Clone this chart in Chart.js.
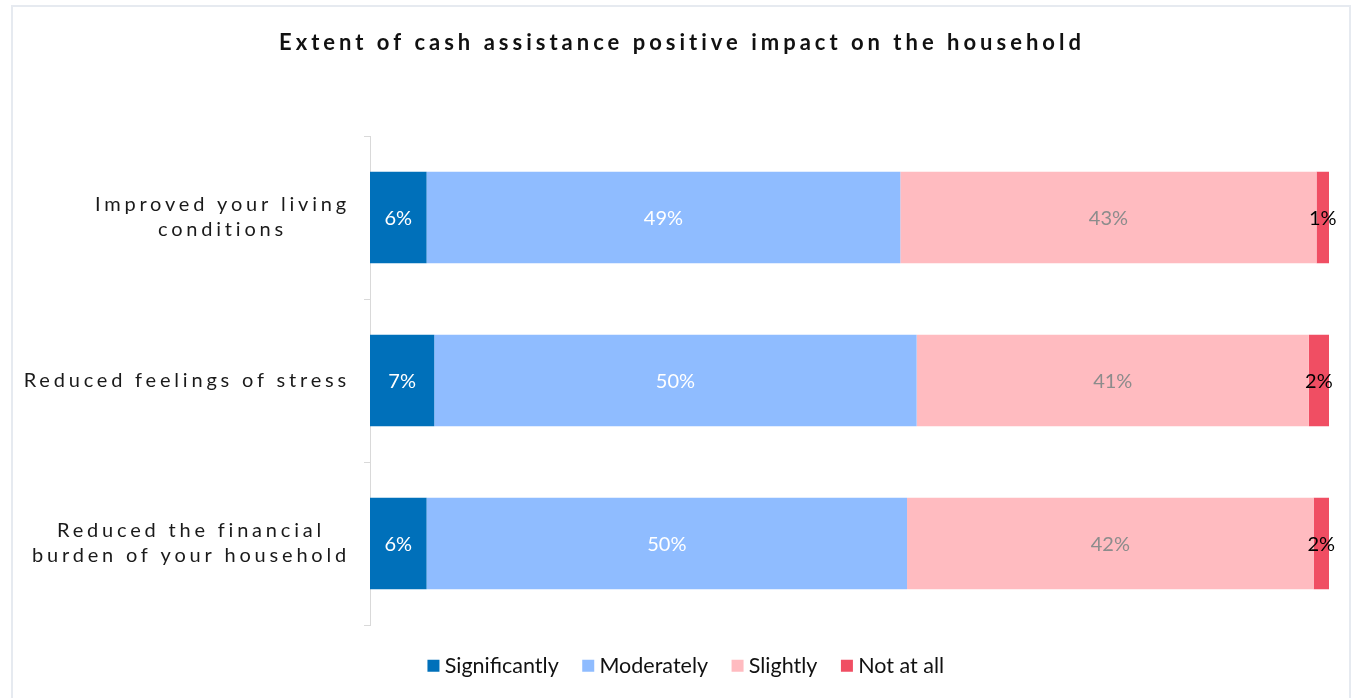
<!DOCTYPE html>
<html>
<head>
<meta charset="utf-8">
<title>Cash assistance impact</title>
<script src="https://cdn.jsdelivr.net/npm/chart.js@4.4.0/dist/chart.umd.min.js"></script>
<style>
  html, body { margin: 0; padding: 0; background: #fff; }
</style>
</head>
<body>
<canvas id="myChart" width="1353" height="698"></canvas>
<script>
var chartTitle = "Extent of cash assistance positive impact on the household"
var categories = [
    ["Improved your living", "conditions"],
    ["Reduced feelings of stress"],
    ["Reduced the financial", "burden of your household"]
]
var seriesNames = ["Significantly", "Moderately", "Slightly", "Not at all"]
var significantly = [5.9, 6.7, 5.9]
var moderately = [49.4, 50.3, 50.1]
var slightly = [43.4, 40.9, 42.4]
var notAtAll = [1.3, 2.1, 1.6]

var colors = ["#0070BA", "#8FBCFF", "#FFBBC0", "#F04E63"]
var labelColors = ["#ffffff", "#ffffff", "#8c8c8c", "#000000"]

Chart.defaults.font.family = "Lato, 'Open Sans', sans-serif"

// light frame round the whole chart
var framePlugin = {
    id: "frame",
    beforeDraw: function(chart) {
        var ctx = chart.ctx
        ctx.save()
        ctx.fillStyle = "#ffffff"
        ctx.fillRect(0, 0, chart.width, chart.height)
        ctx.strokeStyle = "#e6eaf0"
        ctx.lineWidth = 2
        ctx.strokeRect(12, 6, 1338, 720)
        ctx.restore()
    }
}

// percentages in the middle of each segment
var valueLabels = {
    id: "valueLabels",
    afterDatasetsDraw: function(chart) {
        var ctx = chart.ctx
        ctx.save()
        ctx.font = "20px Lato"
        ctx.textAlign = "center"
        ctx.textBaseline = "middle"
        chart.data.datasets.forEach(function(ds, di) {
            var meta = chart.getDatasetMeta(di)
            meta.data.forEach(function(bar, i) {
                ctx.fillStyle = labelColors[di]
                ctx.fillText(Math.round(ds.data[i]) + "%", (bar.x + bar.base) / 2, bar.y + 1)
            })
        })
        ctx.restore()
    }
}

// spaced-out title and category names
var spacedText = {
    id: "spacedText",
    afterDraw: function(chart) {
        var ctx = chart.ctx
        ctx.save()
        ctx.fillStyle = "#111111"
        ctx.textBaseline = "middle"
        ctx.textAlign = "center"
        ctx.font = "bold 22px Lato"
        ctx.letterSpacing = "4px"
        ctx.fillText(chartTitle, 682, 43)

        var yScale = chart.scales.y
        ctx.font = "20px Lato"
        ctx.letterSpacing = "3.8px"
        ctx.fillStyle = "#1a1a1a"
        var right = 350
        var lineH = 25
        categories.forEach(function(lines, i) {
            var yc = yScale.getPixelForValue(i)
            var maxW = 0
            lines.forEach(function(l) { maxW = Math.max(maxW, ctx.measureText(l).width) })
            var cx = right - maxW / 2
            var y0 = yc - (lines.length - 1) * lineH / 2
            lines.forEach(function(l, k) {
                ctx.fillText(l, cx, y0 + k * lineH)
            })
        })
        ctx.restore()
    }
}

var series = [significantly, moderately, slightly, notAtAll]

var myChart = document.getElementById("myChart").getContext("2d")

var chart = new Chart(myChart, {
    type: "bar",
    data: {
        labels: categories.map(function(c) { return c.join(" ") }),
        datasets: series.map(function(values, i) {
            return {
                label: seriesNames[i],
                data: values,
                backgroundColor: colors[i],
                borderWidth: 0,
                categoryPercentage: 1,
                barPercentage: 0.56
            }
        })
    },
    options: {
        indexAxis: "y",
        responsive: false,
        animation: false,
        layout: {
            padding: { top: 136, bottom: 11.5, left: 48, right: 24 }
        },
        scales: {
            x: {
                stacked: true,
                min: 0,
                max: 100,
                ticks: { display: false },
                grid: { display: false },
                border: { display: false },
                afterFit: function(scale) { scale.height = 1 }
            },
            y: {
                stacked: true,
                ticks: { display: false },
                grid: {
                    drawOnChartArea: false,
                    tickLength: 6,
                    color: "#d9d9d9"
                },
                border: { color: "#d9d9d9" },
                afterFit: function(scale) { scale.width = 322 }
            }
        },
        plugins: {
            title: { display: false },
            tooltip: { enabled: false },
            legend: {
                position: "bottom",
                labels: {
                    usePointStyle: true,
                    pointStyle: "rect",
                    boxWidth: 1,
                    boxHeight: 12,
                    padding: 29,
                    color: "#111111",
                    font: { size: 21.5 }
                }
            }
        }
    },
    plugins: [framePlugin, valueLabels, spacedText]
})
</script>
</body>
</html>
